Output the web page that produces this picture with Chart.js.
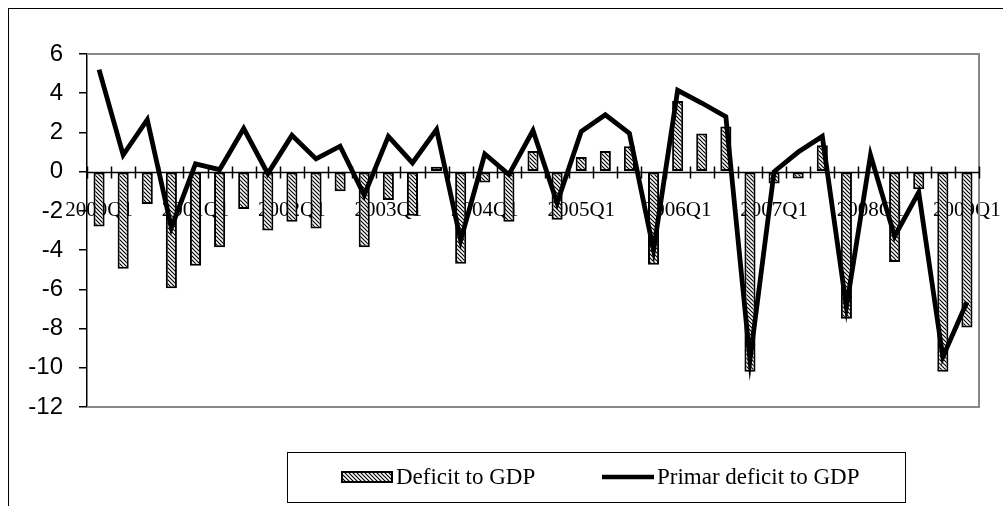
<!DOCTYPE html>
<html>
<head>
<meta charset="utf-8">
<script src="https://cdn.jsdelivr.net/npm/chart.js@4/dist/chart.umd.min.js"></script>
<style>
  html, body { margin: 0; padding: 0; background: #fff; }
  #wrap { position: relative; width: 1003px; height: 506px; overflow: hidden; }
  #frame { position: absolute; left: 8px; top: 8px; width: 1010px; height: 520px; border: 1px solid #000; box-sizing: border-box; }
  #myChart { position: absolute; left: 0; top: 0; }
</style>
</head>
<body>
<div id="wrap">
  <div id="frame"></div>
  <canvas id="myChart" width="1003" height="506"></canvas>
</div>
<script>
//data
const quarters = [
  '2000Q1','2000Q2','2000Q3','2000Q4','2001Q1','2001Q2','2001Q3','2001Q4',
  '2002Q1','2002Q2','2002Q3','2002Q4','2003Q1','2003Q2','2003Q3','2003Q4',
  '2004Q1','2004Q2','2004Q3','2004Q4','2005Q1','2005Q2','2005Q3','2005Q4',
  '2006Q1','2006Q2','2006Q3','2006Q4','2007Q1','2007Q2','2007Q3','2007Q4',
  '2008Q1','2008Q2','2008Q3','2008Q4','2009Q1'
];

const deficitToGdp = [
  -2.8, -4.95, -1.65, -5.95, -4.8, -3.85, -1.9, -3.0,
  -2.55, -2.9, -1.0, -3.85, -1.45, -2.25, 0.25, -4.7,
  -0.55, -2.55, 1.05, -2.45, 0.75, 1.05, 1.3, -4.75,
  3.6, 1.95, 2.3, -10.2, -0.6, -0.35, 1.35, -7.5,
  0, -4.6, -0.9, -10.2, -7.95
];

const primarDeficitToGdp = [
  5.2, 0.85, 2.65, -2.85, 0.4, 0.1, 2.2, -0.1,
  1.85, 0.65, 1.3, -1.2, 1.8, 0.45, 2.15, -3.5,
  0.9, -0.15, 2.1, -1.6, 2.05, 2.9, 1.95, -4.0,
  4.15, 3.5, 2.8, -9.6, 0.0, 1.0, 1.8, -6.9,
  0.85, -3.3, -1.05, -9.45, -6.65
];

const yTicks = { min: -12, max: 6, step: 2 };

const serif = '"Liberation Serif", "Times New Roman", serif';
const sans = '"Liberation Sans", Arial, sans-serif';

const ctx = document.getElementById('myChart').getContext('2d');

// diagonal hatch used for the bars and the legend swatch
function makeHatch() {
  const c = document.createElement('canvas');
  c.width = 4; c.height = 4;
  const g = c.getContext('2d');
  g.fillStyle = '#fff';
  g.fillRect(0, 0, 4, 4);
  g.strokeStyle = '#000';
  g.lineWidth = 1.2;
  g.beginPath();
  g.moveTo(0, 0); g.lineTo(4, 4);
  g.moveTo(-1, 3); g.lineTo(1, 5);
  g.moveTo(3, -1); g.lineTo(5, 1);
  g.stroke();
  return ctx.createPattern(c, 'repeat');
}
const hatch = makeHatch();

// plot frame, zero axis and its cross ticks
const axesPlugin = {
  id: 'axesPlugin',
  beforeDatasetsDraw(chart) {
    const {ctx, chartArea: a, scales: {x, y}} = chart;
    ctx.save();
    ctx.strokeStyle = '#888';
    ctx.lineWidth = 2;
    ctx.beginPath();
    ctx.moveTo(a.left, a.top); ctx.lineTo(a.right, a.top);
    ctx.lineTo(a.right, a.bottom); ctx.lineTo(a.left, a.bottom);
    ctx.stroke();

    const y0 = Math.round(y.getPixelForValue(0)) + 0.5;
    ctx.strokeStyle = '#000';
    ctx.lineWidth = 1.5;
    ctx.beginPath();
    ctx.moveTo(a.left, y0); ctx.lineTo(a.right, y0);
    const n = quarters.length;
    for (let i = 0; i <= n; i++) {
      let px;
      if (i === 0) px = a.left;
      else if (i === n) px = a.right;
      else px = (x.getPixelForValue(i - 1) + x.getPixelForValue(i)) / 2;
      px = Math.round(px) + 0.5;
      ctx.moveTo(px, y0 - 6); ctx.lineTo(px, y0 + 6);
    }
    ctx.stroke();
    ctx.restore();
  },
  afterDraw(chart) {
    // legend box
    const {ctx} = chart;
    const ds = chart.data.datasets;
    ctx.save();
    ctx.strokeStyle = '#000';
    ctx.lineWidth = 1;
    ctx.strokeRect(287.5, 452.5, 618, 50);

    const cy = 477;
    ctx.fillStyle = hatch;
    ctx.fillRect(342, cy - 5, 50, 10);
    ctx.lineWidth = 2;
    ctx.strokeRect(342, cy - 5, 50, 10);

    ctx.beginPath();
    ctx.lineWidth = 4.5;
    ctx.moveTo(602, cy); ctx.lineTo(654, cy);
    ctx.stroke();

    ctx.fillStyle = '#000';
    ctx.font = '23px ' + serif;
    ctx.textBaseline = 'middle';
    ctx.fillText(ds[0].label, 396, cy + 1);
    ctx.fillText(ds[1].label, 657, cy + 1);
    ctx.restore();
  }
};

const chart = new Chart(ctx, {
  type: 'bar',
  data: {
    labels: quarters,
    datasets: [
      {
        label: 'Deficit to GDP',
        data: deficitToGdp,
        backgroundColor: hatch,
        borderColor: '#000',
        borderWidth: 2,
        borderSkipped: false,
        barPercentage: 0.46,
        categoryPercentage: 1,
        order: 2
      },
      {
        type: 'line',
        label: 'Primar deficit to GDP',
        data: primarDeficitToGdp,
        borderColor: '#000',
        borderWidth: 4.8,
        pointRadius: 0,
        tension: 0,
        fill: false,
        order: 1
      }
    ]
  },
  options: {
    responsive: false,
    animation: false,
    layout: { padding: { left: 0, top: 54, right: 24, bottom: 99 } },
    plugins: { legend: { display: false }, tooltip: { enabled: false } },
    scales: {
      x: {
        position: { y: 0 },
        afterFit: s => { s.paddingLeft = 0; s.paddingRight = 0; },
        grid: { display: false },
        border: { display: false },
        ticks: {
          autoSkip: false,
          maxRotation: 0,
          minRotation: 0,
          padding: 18,
          color: '#000',
          font: { family: serif, size: 21 },
          callback: (v, i) => quarters[i].endsWith('Q1') ? quarters[i] : ''
        }
      },
      y: {
        min: yTicks.min,
        max: yTicks.max,
        afterFit: s => { s.width = 87; },
        grid: { drawOnChartArea: false, tickLength: 8, color: '#000', lineWidth: 1.5 },
        border: { color: '#000', width: 1.5 },
        ticks: {
          stepSize: yTicks.step,
          padding: 16,
          color: '#000',
          font: { family: sans, size: 24 }
        }
      }
    }
  },
  plugins: [axesPlugin]
});
</script>
</body>
</html>
